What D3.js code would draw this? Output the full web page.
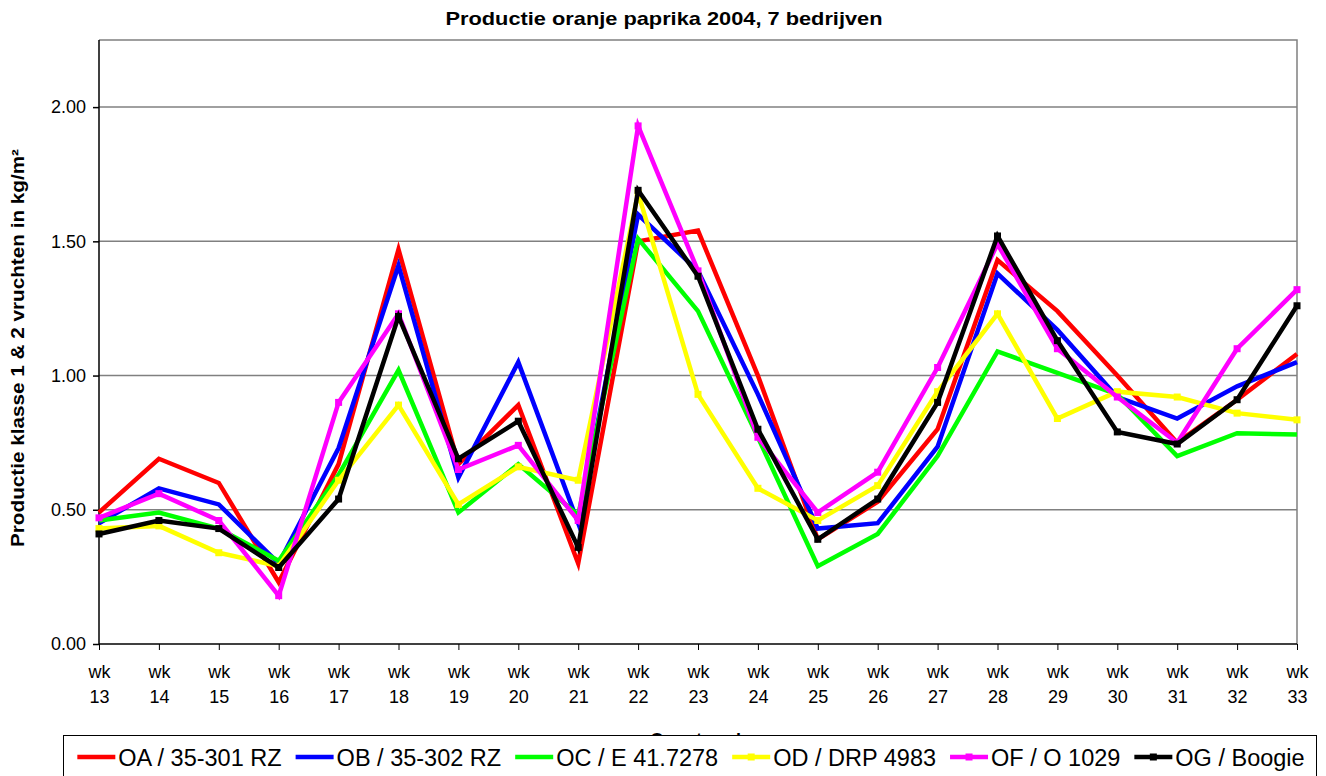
<!DOCTYPE html>
<html>
<head>
<meta charset="utf-8">
<script src="https://cdn.jsdelivr.net/npm/d3@7"></script>
<style>
  body { margin: 0; background: #fff; }
  svg text { font-family: "Liberation Sans", Arial, sans-serif; }
</style>
</head>
<body>
<div id="chart"></div>
<script>
var weeks = [13, 14, 15, 16, 17, 18, 19, 20, 21, 22, 23, 24, 25, 26, 27, 28, 29, 30, 31, 32, 33];
var yTicks = [0, 0.5, 1.0, 1.5, 2.0];

var seriesNames = ["OA / 35-301 RZ", "OB / 35-302 RZ", "OC / E 41.7278", "OD / DRP 4983", "OF / O 1029", "OG / Boogie"];
var seriesColors = ["#ff0000", "#0000ff", "#00ff00", "#ffff00", "#ff00ff", "#000000"];
var seriesMarkers = [false, false, false, true, true, true];

var OA = [0.49, 0.69, 0.60, 0.23, 0.67, 1.47, 0.67, 0.89, 0.30, 1.50, 1.54, 1.00, 0.39, 0.53, 0.80, 1.43, 1.24, 1.00, 0.75, 0.91, 1.08];
var OB = [0.45, 0.58, 0.52, 0.30, 0.73, 1.41, 0.62, 1.05, 0.45, 1.60, 1.39, 0.93, 0.43, 0.45, 0.735, 1.38, 1.17, 0.92, 0.84, 0.96, 1.05];
var OC = [0.46, 0.49, 0.43, 0.31, 0.63, 1.02, 0.49, 0.67, 0.48, 1.51, 1.24, 0.77, 0.29, 0.41, 0.70, 1.09, 1.01, 0.93, 0.70, 0.785, 0.78];
var OD = [0.43, 0.44, 0.34, 0.29, 0.61, 0.89, 0.52, 0.66, 0.61, 1.68, 0.93, 0.58, 0.46, 0.59, 0.94, 1.23, 0.84, 0.94, 0.92, 0.86, 0.835];
var OF = [0.47, 0.56, 0.46, 0.18, 0.90, 1.23, 0.65, 0.74, 0.46, 1.93, 1.39, 0.77, 0.49, 0.64, 1.03, 1.49, 1.10, 0.92, 0.75, 1.10, 1.32];
var OG = [0.41, 0.46, 0.43, 0.285, 0.54, 1.22, 0.69, 0.83, 0.36, 1.69, 1.37, 0.80, 0.39, 0.54, 0.90, 1.52, 1.13, 0.79, 0.745, 0.91, 1.26];
var seriesValues = [OA, OB, OC, OD, OF, OG];

var W = 1326, H = 776;
var pLeft = 99, pRight = 1297, pTop = 40, pBottom = 644;

var svg = d3.select("#chart").append("svg")
    .attr("width", W).attr("height", H);

var x = d3.scalePoint().domain(weeks).range([pLeft, pRight]);
var y = d3.scaleLinear().domain([0, 2.25]).range([pBottom, pTop]);

// gridlines
svg.append("g").selectAll("line")
  .data(yTicks.filter(function(d) { return d > 0; }))
  .enter().append("line")
    .attr("x1", pLeft).attr("x2", pRight)
    .attr("y1", function(d) { return y(d); })
    .attr("y2", function(d) { return y(d); })
    .style("stroke", "#808080").style("stroke-width", 1.5);

// plot border top and right
svg.append("path")
    .attr("d", "M" + pLeft + "," + pTop + "H" + pRight + "V" + pBottom)
    .style("fill", "none").style("stroke", "#808080").style("stroke-width", 1.5);

// y axis
var yAxis = svg.append("g")
    .attr("transform", "translate(" + pLeft + ",0)")
    .call(d3.axisLeft(y).tickValues(yTicks).tickSize(6).tickPadding(7)
      .tickFormat(d3.format(".2f")));
yAxis.select(".domain").attr("d", "M0," + pBottom + "V" + pTop).style("stroke", "#000").style("stroke-width", 1.5);
yAxis.selectAll(".tick line").style("stroke", "#000").style("stroke-width", 1.5);
yAxis.selectAll("text").style("font-size", "18px").style("fill", "#000");

// x axis
var xAxis = svg.append("g")
    .attr("transform", "translate(0," + pBottom + ")")
    .call(d3.axisBottom(x).tickSize(6).tickFormat(""));
xAxis.select(".domain").attr("d", "M" + pLeft + ",0H" + pRight).style("stroke", "#000").style("stroke-width", 1.5);
xAxis.selectAll(".tick line").style("stroke", "#000").style("stroke-width", 1);
var xl = xAxis.selectAll(".tick").append("text")
    .style("font-size", "18px").style("fill", "#000").attr("text-anchor", "middle");
xl.append("tspan").attr("x", 0).attr("y", 34).text("wk");
xl.append("tspan").attr("x", 0).attr("y", 59).text(function(d) { return d; });

// titles
svg.append("text")
    .attr("x", 664).attr("y", 25).attr("text-anchor", "middle")
    .attr("textLength", 437).attr("lengthAdjust", "spacingAndGlyphs")
    .style("font-size", "19px").style("font-weight", "bold")
    .text("Productie oranje paprika 2004, 7 bedrijven");

svg.append("text")
    .attr("transform", "translate(24,348) rotate(-90)")
    .attr("text-anchor", "middle")
    .attr("textLength", 398).attr("lengthAdjust", "spacingAndGlyphs")
    .style("font-size", "18px").style("font-weight", "bold")
    .text("Productie klasse 1 & 2 vruchten in kg/m²");

svg.append("text")
    .attr("x", (pLeft + pRight) / 2).attr("y", 746).attr("text-anchor", "middle")
    .style("font-size", "18px").style("font-weight", "bold")
    .text("Oogstweek");

// lines
var line = d3.line()
    .x(function(d, i) { return x(weeks[i]); })
    .y(function(d) { return y(d); });

var sGroups = svg.append("g").selectAll("g")
  .data(seriesValues)
  .enter().append("g");

sGroups.append("path")
    .attr("d", function(d) { return line(d); })
    .style("fill", "none")
    .style("stroke", function(d, i) { return seriesColors[i]; })
    .style("stroke-width", 4.5)
    .style("stroke-linejoin", "miter");

sGroups.each(function(d, i) {
  if (!seriesMarkers[i]) return;
  d3.select(this).selectAll("rect")
    .data(d).enter().append("rect")
      .attr("x", function(v, j) { return x(weeks[j]) - 3.5; })
      .attr("y", function(v) { return y(v) - 3.5; })
      .attr("width", 7).attr("height", 7)
      .style("fill", seriesColors[i]);
});

// legend
var legend = svg.append("g");
legend.append("rect")
    .attr("x", 63.5).attr("y", 735.5).attr("width", 1253).attr("height", 60)
    .style("fill", "#fff").style("stroke", "#000").style("stroke-width", 1);

var items = legend.append("g");
var lx = 0, ly = 757;
seriesNames.forEach(function(name, i) {
  var g = items.append("g").attr("transform", "translate(" + lx + "," + ly + ")");
  g.append("line").attr("x1", 0).attr("x2", 38).attr("y1", 0).attr("y2", 0)
    .style("stroke", seriesColors[i]).style("stroke-width", 4.5);
  if (seriesMarkers[i]) {
    g.append("rect").attr("x", 15.5).attr("y", -3.5).attr("width", 7).attr("height", 7)
      .style("fill", seriesColors[i]);
  }
  var t = g.append("text").attr("x", 41).attr("y", 8.5)
    .style("font-size", "23.5px").style("fill", "#000").text(name);
  lx += 41 + t.node().getComputedTextLength() + (i < seriesNames.length - 1 ? 14 : 0);
});
items.attr("transform", "translate(" + (691 - lx / 2) + ",0)");
</script>
</body>
</html>
